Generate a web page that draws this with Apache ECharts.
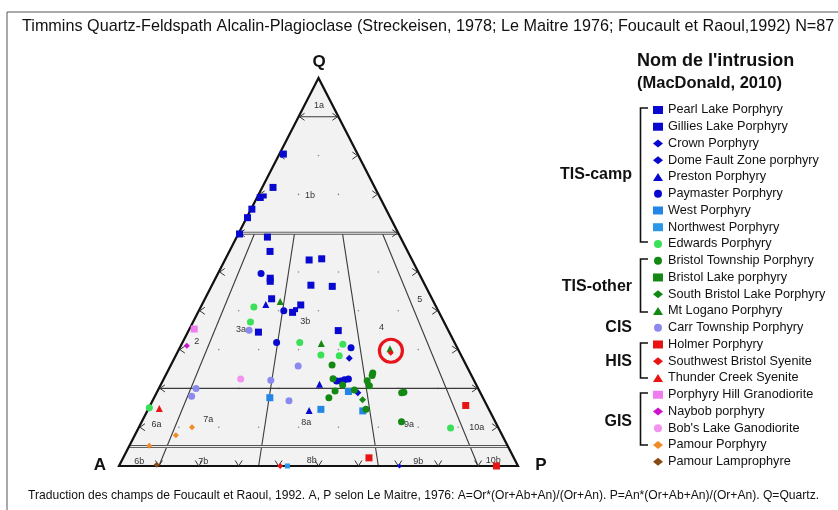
<!DOCTYPE html>
<html><head><meta charset="utf-8">
<script src="https://cdn.jsdelivr.net/npm/echarts@6/dist/echarts.min.js"></script>
<style>html,body{margin:0;padding:0;background:#fff}#c{width:838px;height:510px}</style>
</head><body><div id="c"></div>
<script>
// ---------- DATA : each point is [Q, A, P] in percent ----------
const pearlLake = [[80.4,18.6,1.0],[71.8,25.5,2.7],[69.2,30.0,0.8],[66.2,33.6,0.2],[64.0,35.8,0.2],[59.8,39.9,0.3],[59.0,33.3,7.7],[55.3,34.5,10.2],[53.1,25.8,21.1],[53.4,22.5,24.1],[48.4,37.9,13.7],[47.6,38.3,14.1],[46.6,28.6,24.8],[46.3,23.4,30.3],[43.1,40.2,16.7],[41.5,33.7,24.8],[39.6,36.7,23.7],[34.5,47.8,17.7],[34.9,27.6,37.5]];
const gilliesLake = [[69.6,28.8,1.6],[40.3,35.6,24.1]];
const crown = [[27.8,28.4,43.8],[18.9,30.7,50.4]];
const domeFault = [[0.0,29.7,70.3]];
const preston = [[21.1,39.2,39.7],[14.3,45.2,40.5],[41.6,42.4,16.0]];
const paymaster = [[49.6,39.6,10.8],[31.8,44.6,23.6],[30.5,26.6,42.9],[40.0,38.7,21.3],[21.9,34.5,43.6],[21.9,33.5,44.6],[22.2,32.4,45.4],[22.4,31.3,46.3]];
const west = [[19.2,32.9,47.9],[14.6,42.1,43.3],[17.6,53.4,29.0],[14.2,31.8,54.0]];
const northwest = [[0.0,57.8,42.2]];
const edwards = [[41.0,45.7,13.3],[37.1,48.5,14.4],[31.8,38.8,29.4],[31.4,28.2,40.4],[28.6,35.1,36.3],[28.4,30.6,41.0],[15.0,84.9,0.1],[9.8,12.0,78.2]];
const bristolTownship = [[26.0,33.6,40.4],[24.0,24.4,51.6],[23.3,24.9,51.8],[22.0,26.8,51.2],[20.7,26.9,52.4],[22.5,35.1,42.4],[20.9,33.5,45.6],[19.3,36.2,44.5],[19.6,31.2,49.2],[18.9,19.7,61.4],[19.0,19.1,61.9],[17.6,38.6,43.8],[14.6,30.8,54.6],[11.4,23.5,65.1]];
const bristolLake = [];
const southBristolLake = [[17.1,30.4,52.5]];
const mtLogano = [[42.4,38.4,19.2],[31.6,33.5,34.9],[30.2,17.0,52.8]];
const carrTownship = [[35.0,49.9,15.1],[25.8,42.2,32.0],[22.1,50.9,27.0],[20.0,70.7,9.3],[18.0,72.8,9.2],[16.8,49.0,34.2]];
const holmer = [[15.6,5.3,79.1],[2.1,36.3,61.6],[0.0,5.4,94.6]];
const swBristol = [[29.2,17.3,53.5],[0.0,59.6,40.4]];
const thunderCreek = [[14.8,82.5,2.7]];
const porphyryHill = [[35.3,63.5,1.2]];
const naybob = [[31.0,67.5,1.5]];
const bobsLake = [[22.4,58.3,19.3]];
const pamourPorphyry = [[10.0,76.7,13.3],[7.9,81.8,10.3],[5.2,89.8,5.0]];
const pamourLamprophyre = [[0.3,90.4,9.3]];
const highlighted = [[29.7,17.0,53.3]];

const seriesNames = ['Pearl Lake Porphyry','Gillies Lake Porphyry','Crown Porphyry','Dome Fault Zone porphyry','Preston Porphyry','Paymaster Porphyry','West Porphyry','Northwest Porphyry','Edwards Porphyry','Bristol Township Porphyry','Bristol Lake porphyry','South Bristol Lake Porphyry','Mt Logano Porphyry','Carr Township Porphyry','Holmer Porphyry','Southwest Bristol Syenite','Thunder Creek Syenite','Porphyry Hill Granodiorite','Naybob porphyry',"Bob's Lake Ganodiorite",'Pamour Porphyry','Pamour Lamprophyre'];
const seriesData = [pearlLake,gilliesLake,crown,domeFault,preston,paymaster,west,northwest,edwards,bristolTownship,bristolLake,southBristolLake,mtLogano,carrTownship,holmer,swBristol,thunderCreek,porphyryHill,naybob,bobsLake,pamourPorphyry,pamourLamprophyre];

const groupNames = ['TIS-camp','TIS-other','CIS','HIS','GIS'];

// Streckeisen field labels and their [Q,A,P] positions
const fieldLabels = ['1a','1b','2','3a','3b','4','5','6a','7a','8a','9a','10a','6b','7b','8b','9b','10b'];
const fieldLabelPos = [[92.9,3.4,3.7],[69.8,17.2,13.0],[32.2,64.4,3.4],[35.1,51.9,13.0],[37.2,34.7,28.1],[35.8,16.3,47.9],[43.0,3.1,53.9],[10.8,85.2,4.0],[12.1,71.6,16.3],[11.2,47.5,41.3],[10.8,21.9,67.3],[9.9,5.4,84.7],[1.2,94.3,4.5],[1.2,78.3,20.5],[1.4,51.0,47.6],[1.2,24.4,74.4],[1.4,5.5,93.1]];
// field boundaries [from, to] in [Q,A,P]
const plainBoundaries = [[[90,10,0],[90,0,10]],[[20,80,0],[20,0,80]],[[60,36,4],[0,90,10]],[[60,26,14],[0,65,35]],[[60,14,26],[0,35,65]],[[60,4,36],[0,10,90]]];
const doubleBoundaries = [[[60,40,0],[60,0,40]],[[5,95,0],[5,0,95]]];
const vertices = [[100,0,0],[0,100,0],[0,0,100]];
const tickSteps = [10,20,30,40,50,60,70,80,90];

// ---------- STYLES ----------
const FONT = "'Liberation Sans', Arial, Helvetica, sans-serif";
const BLUE = '#0808d0', GREEN = '#138813';
const styles = [
  ['rect',7,BLUE],['rect',5,BLUE],['diamond',7,BLUE],['diamond',5,BLUE],['triangle',7,BLUE],['circle',7,BLUE],
  ['rect',7,'#2386e6'],['rect',5,'#2b98ea'],['circle',7,'#3ae058'],['circle',7,GREEN],['rect',5,GREEN],['diamond',7,GREEN],
  ['triangle',7,GREEN],['circle',7,'#8a8aee'],['rect',7,'#e81414'],['diamond',6,'#e81414'],['triangle',7,'#e81414'],
  ['rect',7,'#f07df0'],['diamond',6,'#cc14cc'],['circle',7,'#f293ef'],['diamond',6,'#f08a24'],['diamond',6,'#8a4a16']
];

function toXY(t){ const s=t[0]+t[1]+t[2]; const q=t[0]/s*100, p=t[2]/s*100; return [p+q/2, q]; }

const chart = echarts.init(document.getElementById('c'), null, {renderer:'canvas'});

const series = [];
series.push({type:'custom', coordinateSystem:'cartesian2d', data:[[0,0]], silent:true, z:1, clip:false,
  renderItem:(p,api)=>({type:'polygon', shape:{points:vertices.map(v=>api.coord(toXY(v)))}, style:{fill:'#f2f2f2', stroke:null}})});
const lattice = [];
for (const q of tickSteps) for (const pp of tickSteps) { if (q+pp < 100) lattice.push(toXY([q,100-q-pp,pp])); }
series.push({type:'scatter', data:lattice, symbol:'circle', symbolSize:1.6, itemStyle:{color:'#8a8a8a', opacity:1}, silent:true, z:2, clip:false});
series.push({type:'custom', coordinateSystem:'cartesian2d', data:[[0,0]], silent:true, z:3, clip:false,
  renderItem:(p,api)=>{
    const ch=[];
    for (const b of plainBoundaries){ const a=api.coord(toXY(b[0])), c=api.coord(toXY(b[1]));
      ch.push({type:'line', shape:{x1:a[0],y1:a[1],x2:c[0],y2:c[1]}, style:{stroke:'#3a3a3a', lineWidth:1.1}}); }
    for (const b of doubleBoundaries){ const a=api.coord(toXY(b[0])), c=api.coord(toXY(b[1]));
      ch.push({type:'line', shape:{x1:a[0],y1:a[1],x2:c[0],y2:c[1]}, style:{stroke:'#555', lineWidth:3}});
      ch.push({type:'line', shape:{x1:a[0],y1:a[1],x2:c[0],y2:c[1]}, style:{stroke:'#fafafa', lineWidth:1}}); }
    ch.push({type:'polygon', shape:{points:vertices.map(v=>api.coord(toXY(v)))}, style:{fill:null, stroke:'#111', lineWidth:2.2}});
    const tickStyle = {stroke:'#333', lineWidth:1, fill:null};
    for (const s of tickSteps){
      const b = api.coord(toXY([0,100-s,s]));
      ch.push({type:'polyline', shape:{points:[[b[0]-3.5,b[1]-5.5],[b[0],b[1]],[b[0]+3.5,b[1]-5.5]]}, style:tickStyle});
      const l = api.coord(toXY([s,100-s,0]));
      ch.push({type:'polyline', shape:{points:[[l[0]+6,l[1]-3.5],[l[0]+1,l[1]],[l[0]+6,l[1]+3.5]]}, style:tickStyle});
      const r = api.coord(toXY([s,0,100-s]));
      ch.push({type:'polyline', shape:{points:[[r[0]-6,r[1]-3.5],[r[0]-1,r[1]],[r[0]-6,r[1]+3.5]]}, style:tickStyle});
    }
    fieldLabels.forEach((t,i)=>{ const c=api.coord(toXY(fieldLabelPos[i]));
      ch.push({type:'text', style:{text:t, x:c[0], y:c[1], align:'center', verticalAlign:'middle', font:'9px '+FONT, fill:'#333'}}); });
    return {type:'group', children:ch};
  }});
seriesNames.forEach((n,i)=>{
  series.push({type:'scatter', name:n, data:seriesData[i].map(toXY), symbol:styles[i][0], symbolSize:styles[i][1],
    itemStyle:{color:styles[i][2], opacity:1}, z:5, clip:false});
});
series.push({type:'scatter', name:'highlight', data:highlighted.map(toXY), symbol:'circle', symbolSize:23,
  itemStyle:{color:'rgba(0,0,0,0)', borderColor:'#e8141c', borderWidth:3.2, opacity:1}, z:6, clip:false, silent:true});

const graphic = [
  {type:'rect', shape:{x:7,y:12,width:900,height:600}, style:{fill:null, stroke:'#555', lineWidth:1}, z:-1},
  {type:'text', x:319, y:62, style:{text:'Q', font:'bold 17px '+FONT, fill:'#111', align:'center', verticalAlign:'middle'}},
  {type:'text', x:100, y:465, style:{text:'A', font:'bold 17px '+FONT, fill:'#111', align:'center', verticalAlign:'middle'}},
  {type:'text', x:541, y:465, style:{text:'P', font:'bold 17px '+FONT, fill:'#111', align:'center', verticalAlign:'middle'}},
  {type:'text', x:637, y:61, style:{text:"Nom de l'intrusion", font:'bold 18px '+FONT, fill:'#111', verticalAlign:'middle'}},
  {type:'text', x:637, y:83, style:{text:'(MacDonald, 2010)', font:'bold 16.5px '+FONT, fill:'#111', verticalAlign:'middle'}}
];
const groupY = [175,287,328,362,422];
groupNames.forEach((g,i)=>graphic.push({type:'text', x:632, y:groupY[i], style:{text:g, font:'bold 16px '+FONT, fill:'#111', align:'right', verticalAlign:'middle'}}));
const brackets = [[108,242],[259,312],[343,378],[393,445]];
brackets.forEach(b=>graphic.push({type:'polyline', shape:{points:[[648,b[0]],[640.5,b[0]],[640.5,b[1]],[648,b[1]]]}, style:{stroke:'#111', lineWidth:1.6, fill:null}}));

chart.setOption({
  animation:false,
  backgroundColor:'#fff',
  title:[
    {text:'Timmins Quartz-Feldspath Alcalin-Plagioclase (Streckeisen, 1978; Le Maitre 1976; Foucault et Raoul,1992) N=87', left:22, top:19, padding:0,
      textStyle:{fontSize:16.2, fontWeight:'normal', color:'#111', fontFamily:FONT}},
    {text:'Traduction des champs de Foucault et Raoul, 1992. A, P selon Le Maitre, 1976: A=Or*(Or+Ab+An)/(Or+An). P=An*(Or+Ab+An)/(Or+An). Q=Quartz.', left:28, top:490, padding:0,
      textStyle:{fontSize:12.1, fontWeight:'normal', color:'#111', fontFamily:FONT}}
  ],
  grid:{left:119, top:78, width:399, height:388},
  xAxis:{type:'value', min:0, max:100, show:false},
  yAxis:{type:'value', min:0, max:100, show:false},
  legend:{orient:'vertical', left:653, top:101.6, padding:0, itemWidth:10, itemHeight:8, itemGap:0,
    selectedMode:false, data:seriesNames,
    textStyle:{fontSize:12.7, lineHeight:16.75, color:'#111', fontFamily:FONT}},
  graphic:graphic,
  series:series
});
</script></body></html>
